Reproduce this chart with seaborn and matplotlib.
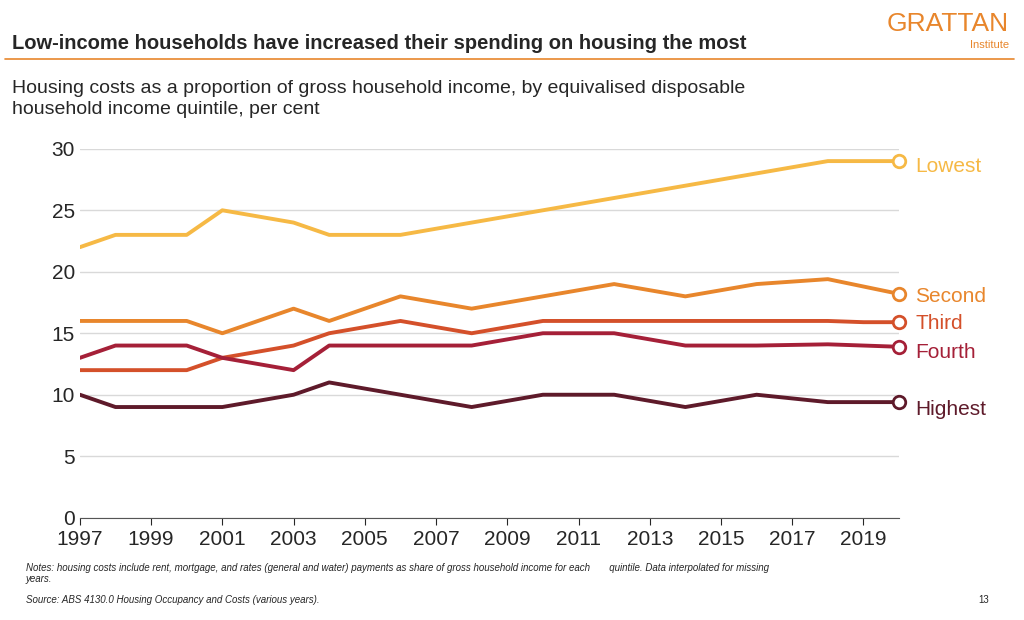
import seaborn as sns
import pandas as pd
import matplotlib.pyplot as plt

years = list(range(1997, 2021))
lowest = [22, 23, 23, 23, 25, 24.5, 24, 23, 23, 23, 23.5, 24, 24.5, 25, 25.5, 26, 26.5, 27, 27.5, 28, 28.5, 29, 29, 29]
second = [16, 16, 16, 16, 15, 16, 17, 16, 17, 18, 17.5, 17, 17.5, 18, 18.5, 19, 18.5, 18, 18.5, 19, 19.2, 19.4, 18.8, 18.2]
third = [12, 12, 12, 12, 13, 13.5, 14, 15, 15.5, 16, 15.5, 15, 15.5, 16, 16, 16, 16, 16, 16, 16, 16, 16, 15.9, 15.9]
fourth = [13, 14, 14, 14, 13, 12.5, 12, 14, 14, 14, 14, 14, 14.5, 15, 15, 15, 14.5, 14, 14, 14, 14.05, 14.1, 14, 13.9]
highest = [10, 9, 9, 9, 9, 9.5, 10, 11, 10.5, 10, 9.5, 9, 9.5, 10, 10, 10, 9.5, 9, 9.5, 10, 9.7, 9.4, 9.4, 9.4]

names = ['Lowest', 'Second', 'Third', 'Fourth', 'Highest']
colors = ['#F6B945', '#E8862C', '#D4502A', '#A52038', '#5E1A2A']

df = pd.DataFrame({'year': years, 'Lowest': lowest, 'Second': second,
                   'Third': third, 'Fourth': fourth, 'Highest': highest})
long = df.melt(id_vars='year', var_name='quintile', value_name='value')

sns.set_style('white')
plt.rcParams['font.family'] = ['Liberation Sans', 'DejaVu Sans']

fig = plt.figure(figsize=(10.24, 6.2), dpi=100)
ax = fig.add_axes([0.078, 0.165, 0.80, 0.595])
sns.lineplot(data=long, x='year', y='value', hue='quintile', hue_order=names,
             palette=colors, linewidth=2.8, legend=False, ax=ax)

label_y = {'Lowest': 28.6, 'Second': 18.0, 'Third': 15.8, 'Fourth': 13.4, 'Highest': 8.8}
for name, c in zip(names, colors):
    v = df[name].iloc[-1]
    ax.plot(2020, v, 'o', ms=9, mfc='white', mec=c, mew=2, clip_on=False)
    ax.text(2020.45, label_y[name], name, color=c, fontsize=15, va='center')

ax.set_xlim(1997, 2020)
ax.set_ylim(0, 30)
ax.set_xticks(range(1997, 2020, 2))
ax.set_yticks(range(0, 31, 5))
ax.tick_params(labelsize=15, length=0)
ax.tick_params(axis='x', length=5, direction='out', bottom=True)
ax.grid(axis='y', color='#d9d9d9', lw=1)
for s in ['top', 'right', 'left']:
    ax.spines[s].set_visible(False)
ax.spines['bottom'].set_color('#555555')
ax.set_xlabel('')
ax.set_ylabel('')

fig.text(0.012, 0.93, 'Low-income households have increased their spending on housing the most',
         fontsize=14.5, fontweight='bold', va='center')
fig.add_artist(plt.Line2D([0.005, 0.99], [0.905, 0.905], color='#E8862C', lw=1.2))
fig.text(0.985, 0.962, 'GRATTAN', color='#E8862C', fontsize=19, ha='right', va='center')
fig.text(0.985, 0.927, 'Institute', color='#E8862C', fontsize=8, ha='right', va='center')
fig.text(0.012, 0.84, 'Housing costs as a proportion of gross household income, by equivalised disposable\n'
         'household income quintile, per cent', fontsize=14, va='center', linespacing=1.3)
fig.text(0.025, 0.075, 'Notes: housing costs include rent, mortgage, and rates (general and water) payments as share of gross household income for each       quintile. Data interpolated for missing\nyears.',
         fontsize=7, style='italic', va='center')
fig.text(0.025, 0.033, 'Source: ABS 4130.0 Housing Occupancy and Costs (various years).',
         fontsize=7, style='italic', va='center')
fig.text(0.955, 0.033, '13', fontsize=7, va='center')

fig.savefig('out.png', dpi=100)
